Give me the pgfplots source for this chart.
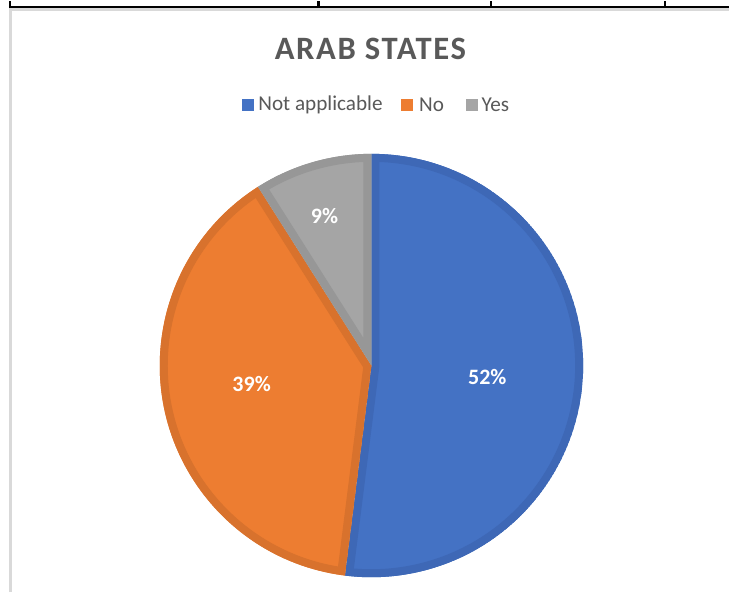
\documentclass[border=0pt]{standalone}
\usepackage{pgfplots}
\pgfplotsset{compat=1.18}
\usepackage{pgfplotstable}
\usepackage{fontspec}
\setmainfont{Carlito}
\definecolor{cBlue}{HTML}{4472C4}
\definecolor{cBlueD}{HTML}{3E68B6}
\definecolor{cOrange}{HTML}{ED7D31}
\definecolor{cOrangeD}{HTML}{D8722D}
\definecolor{cGray}{HTML}{A5A5A5}
\definecolor{cGrayD}{HTML}{979797}
\definecolor{txt}{HTML}{595959}
\definecolor{frame}{HTML}{D9D9D9}

\pgfplotstableread{
label value
NotApplicable 52
No 39
Yes 9
}\piedata

\pgfplotstablegetelem{0}{value}\of\piedata \let\va\pgfplotsretval
\pgfplotstablegetelem{1}{value}\of\piedata \let\vb\pgfplotsretval
\pgfplotstablegetelem{2}{value}\of\piedata \let\vc\pgfplotsretval
\pgfmathsetmacro\angA{90-3.6*\va}
\pgfmathsetmacro\angB{\angA-3.6*\vb}
\pgfmathsetmacro\angC{\angB-3.6*\vc}

\newcommand\slice[4]{%
  \begin{scope}
    \clip (axis cs:372,231) -- ++(#1:159pt) arc[start angle=#1, end angle=#2, radius=159pt] -- cycle;
    \fill[#3] (axis cs:372,231) -- ++(#1:159pt) arc[start angle=#1, end angle=#2, radius=159pt] -- cycle;
    \draw[#4, line width=12pt, line join=round] (axis cs:372,231) -- ++(#1:159pt) arc[start angle=#1, end angle=#2, radius=159pt] -- cycle;
  \end{scope}}

\begin{document}
\begin{tikzpicture}
\begin{axis}[
  x=0.75pt, y=0.75pt,
  xmin=0, xmax=730, ymin=0, ymax=596,
  hide axis, clip=false,
]
\fill[white] (axis cs:0,0) rectangle (axis cs:730,596);
% table lines at top
\draw[black, line width=1.6pt] (axis cs:9,590) -- (axis cs:730,590);
\draw[black, line width=1.6pt] (axis cs:10,596) -- (axis cs:10,589.5);
\draw[black, line width=1.6pt] (axis cs:319,596) -- (axis cs:319,589.5);
\draw[black, line width=1.6pt] (axis cs:492,596) -- (axis cs:492,589.5);
\draw[black, line width=1.6pt] (axis cs:666,596) -- (axis cs:666,589.5);
% chart frame
\draw[frame, line width=1.6pt] (axis cs:10.5,4) -- (axis cs:10.5,587.5) -- (axis cs:730,587.5);

% pie
\slice{90}{\angA}{cBlue}{cBlueD}
\slice{\angA}{\angB}{cOrange}{cOrangeD}
\slice{\angB}{\angC}{cGray}{cGrayD}

% data labels
\node[white, font=\fontsize{16.5}{18}\selectfont\bfseries] at (axis cs:488,219) {52\%};
\node[white, font=\fontsize{16.5}{18}\selectfont\bfseries] at (axis cs:252,212) {39\%};
\node[white, font=\fontsize{16.5}{18}\selectfont\bfseries] at (axis cs:325,381) {9\%};

% title
\node[txt, font=\fontsize{24.5}{28}\selectfont\bfseries\addfontfeatures{LetterSpace=5}] at (axis cs:371,548.5) {ARAB STATES};

% legend
\fill[cBlue] (axis cs:242,486) rectangle (axis cs:254,498);
\node[txt, anchor=west, inner sep=0pt, font=\fontsize{15.9}{18}\selectfont] at (axis cs:258.5,492) {Not applicable};
\fill[cOrange] (axis cs:402,486) rectangle (axis cs:414,498);
\node[txt, anchor=west, inner sep=0pt, font=\fontsize{15.9}{18}\selectfont] at (axis cs:419.5,492) {No};
\fill[cGray] (axis cs:467,486) rectangle (axis cs:479,498);
\node[txt, anchor=west, inner sep=0pt, font=\fontsize{15.9}{18}\selectfont] at (axis cs:482,492) {Yes};
\end{axis}
\end{tikzpicture}
\end{document}
